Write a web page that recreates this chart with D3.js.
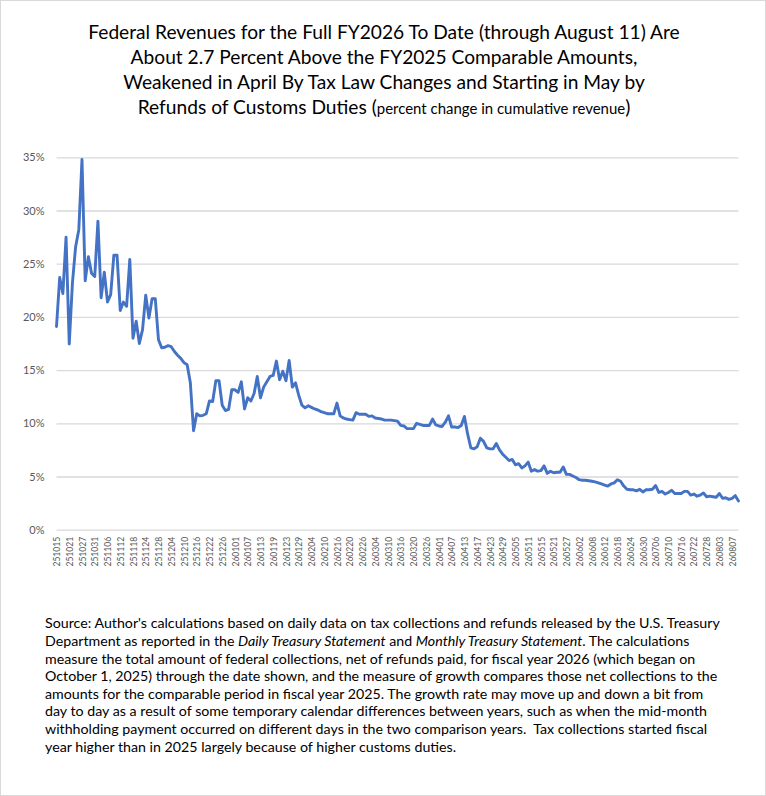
<!DOCTYPE html>
<html>
<head>
<meta charset="utf-8">
<script src="https://cdn.jsdelivr.net/npm/d3@7"></script>
<style>
  body { margin: 0; background: #fff; }
  svg { display: block; font-family: Lato, "Open Sans", sans-serif; }
  text { white-space: pre; }
</style>
</head>
<body>
<script>
// weekday dates of the daily treasury statements, yymmdd
const dates = [
  "251015","251016","251017","251020","251021","251022","251023","251024","251027","251028","251029","251030","251031",
  "251103","251104","251105","251106","251107","251110","251111","251112","251113","251114","251117","251118","251119","251120","251121","251124","251125","251126","251127","251128",
  "251201","251202","251203","251204","251205","251208","251209","251210","251211","251212","251215","251216","251217","251218","251219","251222","251223","251224","251225","251226","251229","251230","251231",
  "260101","260102","260105","260106","260107","260108","260109","260112","260113","260114","260115","260116","260119","260120","260121","260122","260123","260126","260127","260128","260129","260130",
  "260202","260203","260204","260205","260206","260209","260210","260211","260212","260213","260216","260217","260218","260219","260220","260223","260224","260225","260226","260227",
  "260302","260303","260304","260305","260306","260309","260310","260311","260312","260313","260316","260317","260318","260319","260320","260323","260324","260325","260326","260327","260330","260331",
  "260401","260402","260403","260406","260407","260408","260409","260410","260413","260414","260415","260416","260417","260420","260421","260422","260423","260424","260427","260428","260429","260430",
  "260501","260504","260505","260506","260507","260508","260511","260512","260513","260514","260515","260518","260519","260520","260521","260522","260525","260526","260527","260528","260529",
  "260601","260602","260603","260604","260605","260608","260609","260610","260611","260612","260615","260616","260617","260618","260619","260622","260623","260624","260625","260626","260629","260630",
  "260701","260702","260703","260706","260707","260708","260709","260710","260713","260714","260715","260716","260717","260720","260721","260722","260723","260724","260727","260728","260729","260730","260731",
  "260803","260804","260805","260806","260807","260810","260811"
];

// percent change in cumulative revenue vs FY2025
const growth = [
  19.1, 23.7, 22.2, 27.5, 17.45, 23.2, 26.6, 28.2, 34.8, 23.4,
  25.65, 24.1, 23.8, 29.0, 21.8, 24.2, 21.4, 22.1, 25.8, 25.8,
  20.6, 21.4, 21.0, 25.4, 18.0, 19.6, 17.5, 18.8, 22.05, 19.9,
  21.7, 21.7, 17.85, 17.1, 17.15, 17.3, 17.2, 16.75, 16.4, 16.1,
  15.7, 15.5, 13.8, 9.3, 10.9, 10.7, 10.75, 10.9, 12.1, 12.05,
  14.0, 14.0, 11.7, 11.2, 11.3, 13.15, 13.15, 12.9, 13.9, 11.35,
  12.4, 12.1, 12.8, 14.4, 12.4, 13.4, 13.9, 14.4, 14.5, 15.85,
  14.1, 14.9, 14.0, 15.9, 13.4, 13.8, 12.65, 11.7, 11.45, 11.65,
  11.5, 11.35, 11.25, 11.1, 11.0, 10.9, 10.9, 10.9, 11.9, 10.7,
  10.5, 10.4, 10.35, 10.3, 11.0, 10.85, 10.85, 10.85, 10.65, 10.7,
  10.5, 10.45, 10.4, 10.3, 10.3, 10.3, 10.25, 10.2, 9.8, 9.75,
  9.5, 9.5, 9.5, 10.0, 9.9, 9.8, 9.8, 9.8, 10.4, 9.85,
  9.75, 9.7, 10.1, 10.7, 9.65, 9.65, 9.6, 9.8, 10.65, 9.0,
  7.7, 7.6, 7.8, 8.6, 8.3, 7.7, 7.6, 7.6, 8.1, 7.5,
  7.1, 6.8, 6.5, 6.6, 6.1, 6.2, 5.8, 6.0, 6.35, 5.5,
  5.65, 5.5, 5.55, 6.0, 5.3, 5.5, 5.35, 5.4, 5.4, 5.9,
  5.2, 5.2, 5.05, 4.9, 4.7, 4.65, 4.65, 4.6, 4.55, 4.5,
  4.4, 4.3, 4.2, 4.1, 4.3, 4.4, 4.7, 4.55, 4.1, 3.8,
  3.75, 3.75, 3.65, 3.8, 3.55, 3.75, 3.75, 3.8, 4.15, 3.5,
  3.6, 3.35, 3.5, 3.7, 3.4, 3.4, 3.4, 3.6, 3.6, 3.25,
  3.35, 3.15, 3.25, 3.45, 3.1, 3.15, 3.1, 3.05, 3.4, 2.95,
  3.0, 2.85, 2.95, 3.2, 2.7
];

const yTicks = [0, 5, 10, 15, 20, 25, 30, 35];
// every fourth date gets a label
const xTickDates = dates.filter((d, i) => i % 4 === 0);

const titleLines = [
  "Federal Revenues for the Full FY2026 To Date (through August 11) Are",
  "About 2.7 Percent Above the FY2025 Comparable Amounts,",
  "Weakened in April By Tax Law Changes and Starting in May by"
];
const titleLast = ["Refunds of Customs Duties (", "percent change in cumulative revenue", ")"];

// source note: each line is a list of [text, italic]
const sourceLines = [
  [["Source: Author's calculations based on daily data on tax collections and refunds released by the U.S. Treasury", false]],
  [["Department as reported in the ", false], ["Daily Treasury Statement", true], [" and ", false], ["Monthly Treasury Statement", true], [". The calculations", false]],
  [["measure the total amount of federal collections, net of refunds paid, for fiscal year 2026 (which began on", false]],
  [["October 1, 2025) through the date shown, and the measure of growth compares those net collections to the", false]],
  [["amounts for the comparable period in fiscal year 2025. The growth rate may move up and down a bit from", false]],
  [["day to day as a result of some temporary calendar differences between years, such as when the mid-month", false]],
  [["withholding payment occurred on different days in the two comparison years.  Tax collections started fiscal", false]],
  [["year higher than in 2025 largely because of higher customs duties.", false]]
];

const W = 766, H = 796;
const plot = { left: 56.5, right: 738.5, top: 157.3, bottom: 529.7 };

const svg = d3.select("body").append("svg")
  .attr("width", W)
  .attr("height", H);

svg.append("rect")
  .attr("x", 0.5).attr("y", 0.5)
  .attr("width", W - 1).attr("height", H - 1)
  .attr("fill", "#fff")
  .attr("stroke", "#d9d9d9");

const x = d3.scalePoint()
  .domain(dates)
  .range([plot.left, plot.right]);

const y = d3.scaleLinear()
  .domain([0, 35])
  .range([plot.bottom, plot.top]);

// title, sized to the width of the first line
const title = svg.append("g").attr("text-anchor", "middle").attr("fill", "#000");
let t1 = title.append("text").attr("x", 384).attr("y", 38.7)
  .style("font-size", "20px").text(titleLines[0]);
const titleSize = 20 * 592 / t1.node().getComputedTextLength();
t1.style("font-size", titleSize + "px");
titleLines.slice(1).forEach((s, i) => {
  title.append("text").attr("x", 384).attr("y", 38.7 + (i + 1) * 25.2)
    .style("font-size", titleSize + "px").text(s);
});
let t4 = title.append("text").attr("x", 384).attr("y", 38.7 + 3 * 25.2)
  .style("font-size", titleSize + "px");
titleLast.forEach((s, i) => {
  t4.append("tspan")
    .style("font-size", i === 1 ? (titleSize * 0.78) + "px" : null)
    .text(s);
});

// gridlines + y labels
const yAxis = g => g
  .attr("transform", `translate(${plot.left},0)`)
  .call(d3.axisLeft(y).tickValues(yTicks).tickSize(-(plot.right - plot.left)).tickPadding(12).tickFormat(d => d + "%"))
  .call(g => g.select(".domain").remove())
  .call(g => g.selectAll(".tick line").attr("stroke", "#d9d9d9").attr("stroke-width", 1.3))
  .call(g => g.selectAll(".tick text")
    .attr("fill", "#595959")
    .style("font-size", "11px")
    .style("font-family", "Lato, sans-serif"));

svg.append("g").call(yAxis);

const xAxis = g => g
  .attr("transform", `translate(0,${plot.bottom})`)
  .call(d3.axisBottom(x).tickValues(xTickDates).tickSize(0))
  .call(g => g.select(".domain").remove())
  .call(g => g.selectAll(".tick text")
    .attr("transform", "rotate(-90)")
    .attr("x", -7)
    .attr("y", 0)
    .attr("dy", "0.36em")
    .attr("text-anchor", "end")
    .attr("fill", "#595959")
    .style("font-size", "8.6px")
    .style("font-family", "Lato, sans-serif"));

svg.append("g").call(xAxis);

// the series
const line = d3.line()
  .x((d, i) => x(dates[i]))
  .y(d => y(d));

svg.append("path")
  .datum(growth)
  .attr("fill", "none")
  .attr("stroke", "#4472C4")
  .attr("stroke-width", 2.9)
  .attr("stroke-linejoin", "round")
  .attr("stroke-linecap", "round")
  .attr("d", line);

// source note, sized to the width of its first line
const note = svg.append("g").attr("fill", "#000");
const noteTexts = sourceLines.map((parts, i) => {
  const t = note.append("text").attr("x", 45).attr("y", 628.4 + i * 17.6)
    .style("font-size", "13px");
  parts.forEach(([s, it]) => {
    t.append("tspan").style("font-style", it ? "italic" : null).text(s);
  });
  return t;
});
const noteSize = 13 * 675 / noteTexts[0].node().getComputedTextLength();
noteTexts.forEach(t => t.style("font-size", noteSize + "px"));
</script>
</body>
</html>
